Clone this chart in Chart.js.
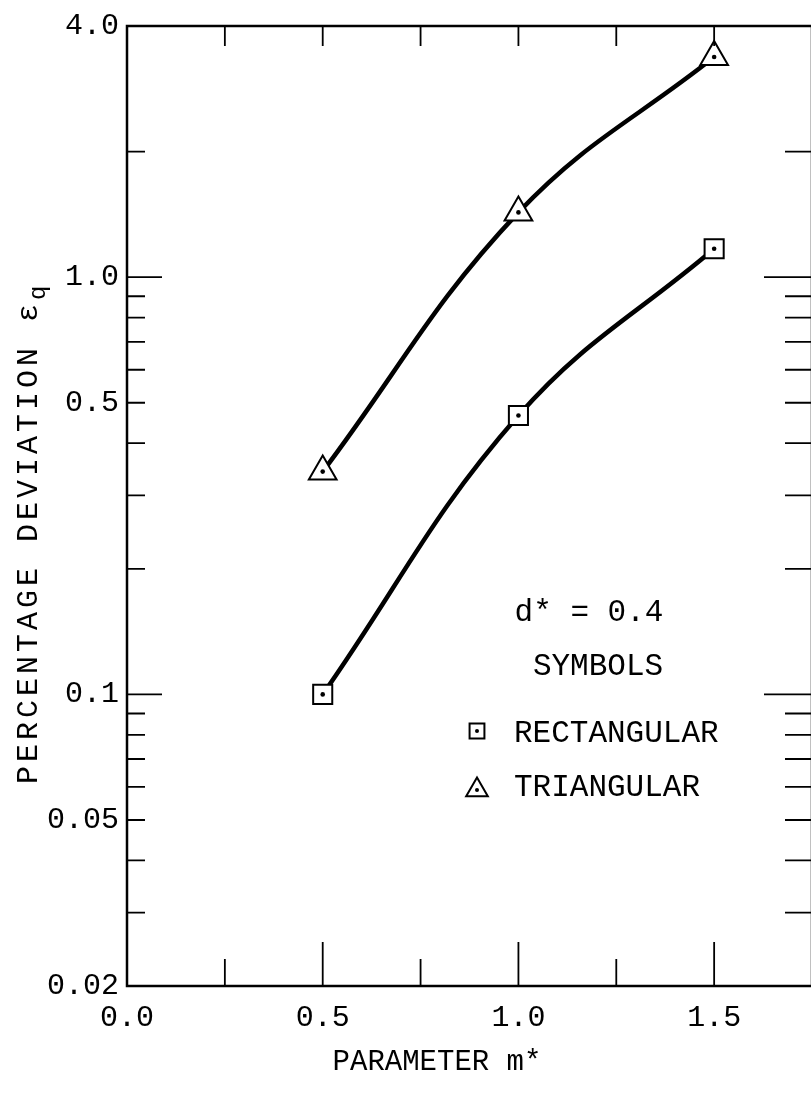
<!DOCTYPE html>
<html>
<head>
<meta charset="utf-8">
<script src="https://cdn.jsdelivr.net/npm/chart.js@4/dist/chart.umd.min.js"></script>
<style>
  html, body { margin: 0; padding: 0; background: #fff; overflow: hidden; }
  #frame { position: relative; width: 811px; height: 1096px; overflow: hidden; }
  #frame canvas { position: absolute; left: 0; top: 0; display: block; }
</style>
</head>
<body>
<div id="frame"><canvas id="deviationChart" width="830" height="1096"></canvas></div>
<script>
const mValues = [0.5, 1.0, 1.5];
const rectangularDeviation = [0.1, 0.466, 1.17];
const triangularDeviation = [0.342, 1.43, 3.37];

const xLabelValues = [0, 0.5, 1.0, 1.5];
const xTickValues = [0.25, 0.5, 0.75, 1.0, 1.25, 1.5];
const xMajorTicks = [0.5, 1.0, 1.5];
const yLabelValues = [0.02, 0.05, 0.1, 0.5, 1.0, 4.0];
const yLabelText = ["0.02", "0.05", "0.1", "0.5", "1.0", "4.0"];
const yTickValues = [2, 1, 0.9, 0.8, 0.7, 0.6, 0.5, 0.4, 0.3, 0.2, 0.1, 0.09, 0.08, 0.07, 0.06, 0.05, 0.04, 0.03];
const yMajorTicks = [1, 0.1];

const parameterNote = "d* = 0.4";
const symbolsHeading = "SYMBOLS";
const legendLabels = ["RECTANGULAR", "TRIANGULAR"];
const legendStyles = ["rect", "triangle"];
const yTitle = "PERCENTAGE DEVIATION \u03b5";
const yTitleSub = "q";
const xTitle = "PARAMETER m*";

const FONT = "'Liberation Mono', 'DejaVu Sans Mono', monospace";

function toPoints(values) {
  return mValues.map((m, index) => ({ x: m, y: values[index] }));
}

// frame, inward tick marks, dots inside the markers, legend and titles
const paperPlugin = {
  id: "paper",
  afterDatasetsDraw(chart) {
    const ctx = chart.ctx;
    ctx.save();
    ctx.fillStyle = "#000";
    chart.data.datasets.forEach((dataset, index) => {
      chart.getDatasetMeta(index).data.forEach((point) => {
        ctx.beginPath();
        ctx.arc(point.x, point.y, 2.3, 0, Math.PI * 2);
        ctx.fill();
      });
    });
    ctx.restore();
  },
  afterDraw(chart) {
    const { ctx, chartArea: area, scales } = chart;
    const x = scales.x;
    const y = scales.y;
    ctx.save();
    ctx.strokeStyle = "#000";
    ctx.lineWidth = 2.5;
    ctx.strokeRect(area.left, area.top, area.right - area.left, area.bottom - area.top);

    ctx.lineWidth = 1.8;
    ctx.beginPath();
    xTickValues.forEach((value) => {
      const px = x.getPixelForValue(value);
      const bottomLength = xMajorTicks.includes(value) ? 44 : 27;
      ctx.moveTo(px, area.bottom);
      ctx.lineTo(px, area.bottom - bottomLength);
      ctx.moveTo(px, area.top);
      ctx.lineTo(px, area.top + 20);
    });
    yTickValues.forEach((value) => {
      const py = y.getPixelForValue(value);
      const major = yMajorTicks.includes(value);
      ctx.moveTo(area.left, py);
      ctx.lineTo(area.left + (major ? 35 : 18), py);
      ctx.moveTo(area.right, py);
      ctx.lineTo(area.right - (major ? 48 : 27), py);
    });
    ctx.stroke();

    // legend block
    ctx.fillStyle = "#000";
    ctx.textBaseline = "middle";
    ctx.textAlign = "center";
    ctx.font = `31px ${FONT}`;
    ctx.fillText(parameterNote, 589, 613);
    ctx.fillText(symbolsHeading, 598, 667);
    ctx.textAlign = "left";
    const legendRows = [734, 788];
    legendLabels.forEach((label, index) => {
      ctx.fillStyle = "#000";
      ctx.fillText(label, 514, legendRows[index]);
      const cy = legendRows[index] - (index ? -2 : 3);
      ctx.strokeStyle = "#000";
      ctx.fillStyle = "#fff";
      ctx.lineWidth = 2;
      Chart.helpers.drawPoint(ctx, { pointStyle: legendStyles[index], rotation: 0, radius: legendStyles[index] === "rect" ? 10.5 : 12.5, borderWidth: 2 }, 477, cy);
      ctx.fillStyle = "#000";
      ctx.beginPath();
      ctx.arc(477, cy, 2, 0, Math.PI * 2);
      ctx.fill();
    });

    // x title
    ctx.fillStyle = "#000";
    ctx.textAlign = "center";
    ctx.font = `29px ${FONT}`;
    ctx.fillText(xTitle, 437, 1062);

    // rotated y title with subscript
    ctx.translate(37, 300);
    ctx.rotate(-Math.PI / 2);
    ctx.textAlign = "right";
    ctx.textBaseline = "alphabetic";
    ctx.font = `30px ${FONT}`;
    ctx.letterSpacing = "4px";
    ctx.fillText(yTitle, 0, 0);
    ctx.letterSpacing = "0px";
    ctx.textAlign = "left";
    ctx.font = `24px ${FONT}`;
    ctx.fillText(yTitleSub, 0, 8);
    ctx.restore();
  }
};

const curveStyle = {
  borderColor: "#000",
  borderWidth: 4.5,
  pointBorderWidth: 2,
  pointBackgroundColor: "#fff",
  pointBorderColor: "#000",
  tension: 0.4,
  fill: false
};

new Chart(document.getElementById("deviationChart"), {
  type: "line",
  data: {
    datasets: [
      { ...curveStyle, label: legendLabels[1], data: toPoints(triangularDeviation), pointStyle: "triangle", pointRadius: 16 },
      { ...curveStyle, label: legendLabels[0], data: toPoints(rectangularDeviation), pointStyle: "rect", pointRadius: 13.5 }
    ]
  },
  options: {
    responsive: false,
    animation: false,
    layout: { padding: { top: 20, right: 6, left: 0, bottom: 0 } },
    plugins: { legend: { display: false }, tooltip: { enabled: false } },
    scales: {
      x: {
        type: "linear",
        min: 0,
        max: 1.75,
        grid: { display: false, drawTicks: false },
        border: { display: false },
        afterBuildTicks: (scale) => { scale.ticks = xLabelValues.map((value) => ({ value })); },
        afterFit: (scale) => { scale.height = 110; },
        ticks: {
          padding: 14,
          color: "#000",
          font: { family: FONT, size: 30 },
          callback: (value) => Number(value).toFixed(1)
        }
      },
      y: {
        type: "logarithmic",
        min: 0.02,
        max: 4,
        grid: { display: false, drawTicks: false },
        border: { display: false },
        afterBuildTicks: (scale) => { scale.ticks = yLabelValues.map((value) => ({ value })); },
        afterFit: (scale) => { scale.width = 127; },
        ticks: {
          padding: 8,
          color: "#000",
          font: { family: FONT, size: 30 },
          callback: (value) => yLabelText[yLabelValues.indexOf(Number(value))] ?? ""
        }
      }
    }
  },
  plugins: [paperPlugin]
});
</script>
</body>
</html>
